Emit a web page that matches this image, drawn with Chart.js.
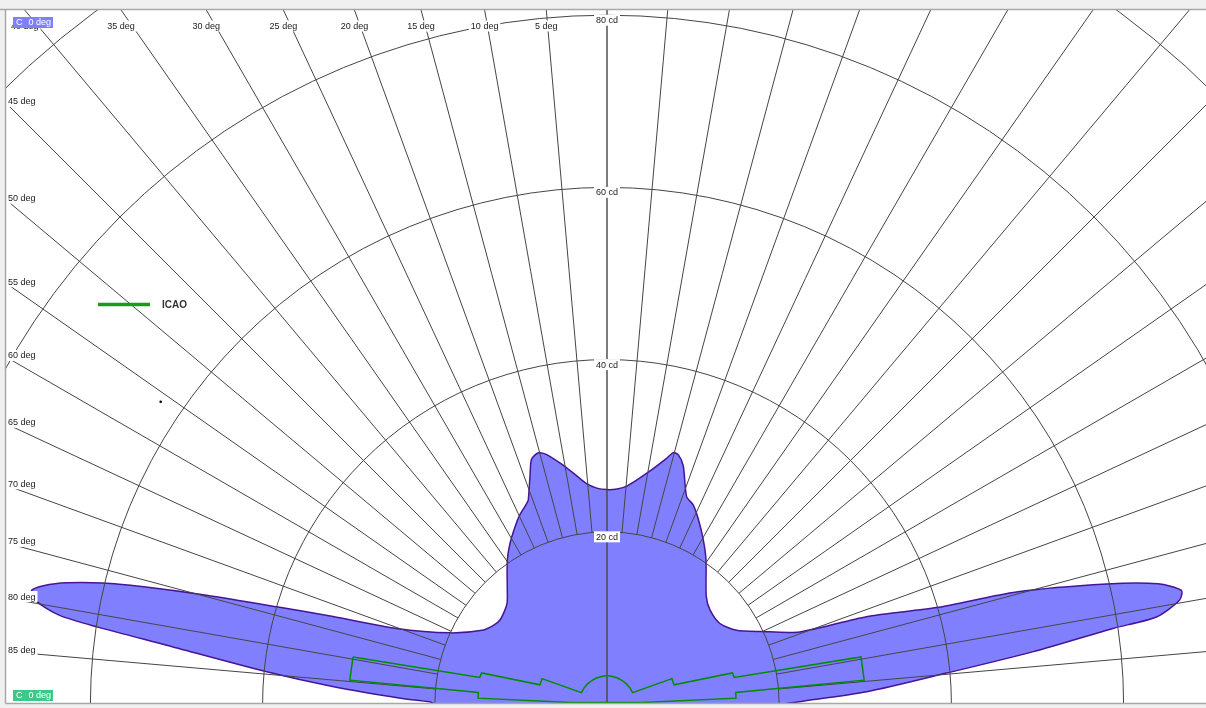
<!DOCTYPE html>
<html>
<head>
<meta charset="utf-8">
<script src="https://cdn.jsdelivr.net/npm/chart.js@4.4.1/dist/chart.umd.min.js"></script>
<style>
html,body{margin:0;padding:0;background:#f0f0f0;overflow:hidden}
canvas{display:block}
</style>
</head>
<body>
<canvas id="c" width="1214" height="708"></canvas>
<script>
// ---- Data (gamma in degrees from vertical, intensity in cd) ----
const c0Gamma = [-90,-89.3,-88.4,-86.4,-84.6,-82.4,-81.4,-80.8,-79.8,-78.8,-77.7,-76.5,-75.8,-74.8,-73.6,-72.3,-70.3,-65.6,-59.0,-55.0,-51.9,-47.5,-44.7,-42.9,-35.0,-31.1,-27.4,-24.7,-21.8,-21.1,-18.7,-17.2,-15.7,-14.9,-13.6,-11.0,-8.3,-5.3,-2.7,0,2.7,5.2,9.8,13.7,14.8,16.0,17.8,21.0,23.4,26.4,30.4,34.5,42.7,47.6,54.5,60.3,64.7,69.5,71.4,73.7,74.7,76.5,77.7,78.8,79.7,81.0,81.5,83.0,84.8,87.3,89.3,90];
const c0Cd    = [20.0,20.6,24.0,31.8,39.7,51.6,59.9,64.4,67.3,68.1,65.6,60.2,55.5,48.2,40.0,33.4,26.0,20.0,16.7,16.0,15.8,16.1,16.5,17.0,20.2,21.8,23.2,24.2,25.1,25.4,27.9,29.7,30.2,30.2,29.8,28.5,27.1,25.7,25.1,24.9,25.0,25.4,27.2,29.4,30.2,30.1,29.0,25.8,25.2,23.9,22.1,20.3,17.0,16.2,16.1,17.3,19.7,23.9,31.8,39.9,49.3,59.7,65.5,68.0,67.6,64.6,59.4,49.9,39.6,30.2,22.4,20.5];

const icaoGamma = [-79.5,-78.2,-76.1,-74.0,-68.7,-66,-55,-44,-33,-22,-11,0,11,22,33,44,55,66,68.7,74.0,76.1,78.2,79.5,84.7,84.9,87.4,87.5,-87.5,-87.4,-84.9,-84.7,-79.5];
const icaoCd    = [30,15.1,15.0,8.1,8.1,3.25,3.25,3.25,3.25,3.25,3.25,3.3,3.25,3.25,3.25,3.25,3.25,3.25,8.1,8.1,15.0,15.1,30,30,15,15,4.2,4.2,15,15,30,30];

const strayGamma = [-55.9];
const strayCd = [62.6];

const ringCd = [20,40,60,80,100,120];
const ringLabelCd = [20,40,60,80];
const spokeDeg = [-85,-80,-75,-70,-65,-60,-55,-50,-45,-40,-35,-30,-25,-20,-15,-10,-5,0,5,10,15,20,25,30,35,40,45,50,55,60,65,70,75,80,85];
const topLabelDeg = [5,10,15,20,25,30,35,40];
const leftLabelDeg = [45,50,55,60,65,70,75,80,85];
const legendLabel = 'ICAO';
const planeLabel = ['C', '0 deg'];

// ---- helpers ----
const rad = d => d * Math.PI / 180;
const toXY = (g, cd) => g.map((a, i) => ({x: cd[i] * Math.sin(rad(a)), y: cd[i] * Math.cos(rad(a))}));

const PX_PER_CD = 8.61;
const CW = 1214, H = 708;
const PAD = {left: 6, top: 10, right: 8, bottom: 4};
const xMin = -(607 - PAD.left) / PX_PER_CD;
const xMax = xMin + (CW - PAD.left - PAD.right) / PX_PER_CD;
const yMax = (H - PAD.top - PAD.bottom) / PX_PER_CD;

const FONT = '9px "Liberation Sans", Arial, sans-serif';
const GRID = '#454545';

function labelBox(ctx, text, x, y, align) {
  ctx.font = FONT;
  const w = ctx.measureText(text).width;
  let left = align === 'left' ? x : x - w / 2;
  ctx.fillStyle = '#ffffff';
  ctx.fillRect(left - 2, y - 5.5, w + 4, 11);
  ctx.fillStyle = '#222';
  ctx.textBaseline = 'middle';
  ctx.textAlign = 'left';
  ctx.fillText(text, left, y + 0.5);
}

const polarPlugin = {
  id: 'polarGrid',
  beforeDraw(chart) {
    const {ctx, chartArea: a} = chart;
    ctx.save();
    ctx.fillStyle = '#f0f0f0';
    ctx.fillRect(0, 0, chart.width, chart.height);
    ctx.fillStyle = '#ffffff';
    ctx.fillRect(a.left, a.top, a.right - a.left, a.bottom - a.top);
    ctx.restore();
  },
  afterDatasetDraw(chart, args) {
    if (args.index !== 0) return;
    const {ctx, chartArea: a} = chart;
    const xs = chart.scales.x, ys = chart.scales.y;
    const cx = xs.getPixelForValue(0), cy = ys.getPixelForValue(0);
    ctx.save();
    ctx.beginPath();
    ctx.rect(a.left, a.top, a.right - a.left, a.bottom - a.top);
    ctx.clip();
    ctx.strokeStyle = GRID;
    ctx.lineWidth = 1;
    ringCd.forEach(r => {
      const rx = xs.getPixelForValue(r) - cx;
      const ry = cy - ys.getPixelForValue(r);
      ctx.beginPath();
      ctx.ellipse(cx, cy, rx, ry, 0, Math.PI, 2 * Math.PI);
      ctx.stroke();
    });
    spokeDeg.forEach(g => {
      const inner = g === 0 ? 0 : ringCd[0];
      const outer = 200;
      const s = Math.sin(rad(g)), c = Math.cos(rad(g));
      ctx.beginPath();
      ctx.moveTo(xs.getPixelForValue(inner * s), ys.getPixelForValue(inner * c));
      ctx.lineTo(xs.getPixelForValue(outer * s), ys.getPixelForValue(outer * c));
      ctx.lineWidth = g === 0 ? 1.4 : 1;
      ctx.stroke();
    });
    ctx.restore();
  },
  afterDatasetsDraw(chart) {
    const {ctx, chartArea: a} = chart;
    const xs = chart.scales.x, ys = chart.scales.y;
    const cx = xs.getPixelForValue(0), cy = ys.getPixelForValue(0);
    ctx.save();
    ringLabelCd.forEach(r => {
      labelBox(ctx, r + ' cd', cx, ys.getPixelForValue(r) + 5, 'center');
    });
    topLabelDeg.forEach(g => {
      const x = cx - (cy - a.top) * Math.tan(rad(g));
      labelBox(ctx, g + ' deg', x, a.top + 16, 'center');
    });
    leftLabelDeg.forEach(g => {
      const y = cy - (cx - a.left) / Math.tan(rad(g));
      labelBox(ctx, g + ' deg', a.left + 2, y - 1.5, 'left');
    });
    const box = (y, color) => {
      ctx.fillStyle = color;
      ctx.fillRect(13, y, 40, 11);
      ctx.fillStyle = '#ffffff';
      ctx.font = FONT;
      ctx.textBaseline = 'middle';
      ctx.textAlign = 'left';
      ctx.fillText(planeLabel[0], 16, y + 6);
      ctx.textAlign = 'right';
      ctx.fillText(planeLabel[1], 51, y + 6);
    };
    box(17, '#8080ff');
    box(690, '#3cc886');
    ctx.strokeStyle = '#1a9a1a';
    ctx.lineWidth = 3.5;
    ctx.beginPath();
    ctx.moveTo(98, 304.5);
    ctx.lineTo(150, 304.5);
    ctx.stroke();
    ctx.fillStyle = '#333';
    ctx.font = 'bold 10px "Liberation Sans", Arial, sans-serif';
    ctx.textAlign = 'left';
    ctx.textBaseline = 'middle';
    ctx.fillText(legendLabel, 162, 305.5);
    ctx.strokeStyle = '#a8a8a8';
    ctx.lineWidth = 1.5;
    ctx.beginPath();
    ctx.moveTo(0, a.top - 0.5); ctx.lineTo(chart.width, a.top - 0.5);
    ctx.moveTo(a.left - 0.5, a.top - 0.5); ctx.lineTo(a.left - 0.5, a.bottom - 0.5);
    ctx.moveTo(a.left - 0.5, a.bottom - 0.5); ctx.lineTo(chart.width, a.bottom - 0.5);
    ctx.stroke();
    ctx.restore();
  }
};

new Chart(document.getElementById('c'), {
  type: 'line',
  data: {
    datasets: [
      {
        label: 'C 0 deg',
        data: toXY(c0Gamma, c0Cd),
        borderColor: 'rgb(70,20,150)',
        backgroundColor: 'rgb(128,128,255)',
        borderWidth: 1.5,
        fill: 'shape',
        pointRadius: 0,
        pointHoverRadius: 0,
        tension: 0.25,
        order: 3
      },
      {
        label: legendLabel,
        data: toXY(icaoGamma, icaoCd),
        borderColor: 'rgb(0,140,0)',
        borderWidth: 1.5,
        fill: false,
        pointRadius: 0,
        pointHoverRadius: 0,
        tension: 0,
        order: 2
      },
      {
        label: 'mark',
        data: toXY(strayGamma, strayCd),
        showLine: false,
        pointRadius: 1.3,
        pointHoverRadius: 0,
        pointBackgroundColor: '#000',
        pointBorderWidth: 0,
        order: 1
      }
    ]
  },
  options: {
    responsive: false,
    animation: false,
    devicePixelRatio: 1,
    layout: {padding: PAD},
    plugins: {legend: {display: false}, tooltip: {enabled: false}},
    scales: {
      x: {type: 'linear', min: xMin, max: xMax, display: false},
      y: {type: 'linear', min: 0, max: yMax, display: false}
    }
  },
  plugins: [polarPlugin]
});
</script>
</body>
</html>
